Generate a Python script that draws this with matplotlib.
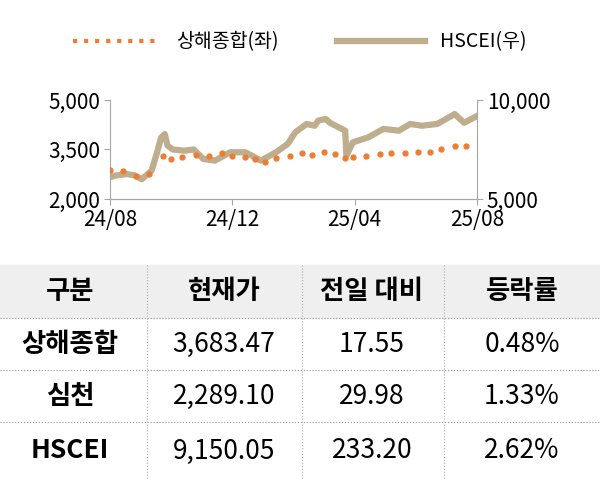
import matplotlib
matplotlib.use("Agg")
import matplotlib.pyplot as plt
from matplotlib.lines import Line2D

plt.rcParams['font.family'] = ['Noto Sans CJK KR', 'DejaVu Sans']

# months since 2024-08
hs_x = [0,0.16,0.54,0.79,1.04,1.36,1.54,1.67,1.79,1.88,2.05,2.42,2.74,3.05,3.43,3.93,4.43,4.93,5.43,5.81,6.06,6.43,6.69,6.81,7.06,7.19,7.69,7.73,7.94,8.44,8.94,9.44,9.82,10.2,10.7,11.27,11.58,11.96]
hs_y = [6100,6180,6260,6200,6000,6430,7360,8100,8280,7700,7500,7440,7500,7020,6940,7360,7360,6940,7360,7780,8370,8790,8700,8960,9040,8850,8450,7190,7860,8110,8540,8450,8790,8700,8790,9290,8850,9160]
sh_x = [0,0.41,0.85,1.29,1.73,2.01,2.36,2.80,3.24,3.65,3.99,4.43,4.74,5.06,5.43,5.87,6.27,6.62,6.99,7.37,7.69,7.94,8.38,8.82,9.20,9.64,10.08,10.45,10.83,11.27,11.65]
sh_y = [2880,2860,2710,2760,3310,3210,3280,3340,3310,3380,3310,3260,3210,3130,3230,3310,3380,3340,3430,3360,3230,3260,3290,3360,3380,3390,3410,3430,3520,3620,3620]
xticks = [0,4,8,12]
xlabels = ['24/08','24/12','25/04','25/08']

columns = ['구분','현재가','전일 대비','등락률']
rows = [['상해종합','3,683.47','17.55','0.48%'],
        ['심천','2,289.10','29.98','1.33%'],
        ['HSCEI','9,150.05','233.20','2.62%']]

orange = '#ED7D31'
tan = '#BFAE8E'

fig = plt.figure(figsize=(6,4.8), dpi=100)
ax = fig.add_axes([110/600, 1-199/480, 367/600, 99/480])
ax2 = ax.twinx()
ax.plot(sh_x, sh_y, linestyle='none', marker='o', ms=3.5, color=orange, zorder=3)
ax2.plot(hs_x, hs_y, color=tan, lw=4.5, zorder=2)
ax.set_zorder(ax2.get_zorder()+1); ax.patch.set_visible(False)
ax.set_xlim(0,12); ax.set_ylim(2000,5000); ax2.set_ylim(5000,10000)
ax.set_yticks([2000,3500,5000]); ax.set_yticklabels(['2,000','3,500','5,000'])
ax2.set_yticks([5000,10000]); ax2.set_yticklabels(['5,000','10,000'])
ax.set_xticks(xticks); ax.set_xticklabels(xlabels)
for a in (ax, ax2):
    a.spines['top'].set_visible(False)
    for s in ['left','right','bottom']:
        a.spines[s].set_color('#a6a6a6')
    a.tick_params(labelsize=15, color='#a6a6a6', length=4, direction='out', pad=3)
ax.spines['right'].set_visible(False)
ax2.spines['left'].set_visible(False)

handles = [Line2D([],[],linestyle=':',color=orange,lw=3),
           Line2D([],[],color=tan,lw=4.5)]
fig.legend(handles, ['상해종합(좌)','HSCEI(우)'], loc='center', bbox_to_anchor=(0.5,1-42/480),
           ncol=2, frameon=False, fontsize=14, handlelength=4.5, columnspacing=3)

# table
tax = fig.add_axes([0,0,1,1]); tax.set_xlim(0,600); tax.set_ylim(480,0); tax.axis('off')
col_edges = [0,147,302,444,600]
col_centers = [70,224,372,522]
row_edges = [265,318,370,422,480]
tax.add_patch(plt.Rectangle((0,265),600,53,color='#efefef',zorder=0))
for y in row_edges[1:-1]:
    tax.plot([0,600],[y,y],ls=':',color='#999999',lw=0.8)
for x in col_edges[1:-1]:
    tax.plot([x,x],[265,480],ls=':',color='#aaaaaa',lw=0.8)
for j,c in enumerate(columns):
    tax.text(col_centers[j],(row_edges[0]+row_edges[1])/2,c,ha='center',va='center',fontsize=19,fontweight='bold')
for i,r in enumerate(rows):
    yc = (row_edges[i+1]+row_edges[i+2])/2
    for j,v in enumerate(r):
        tax.text(col_centers[j],yc,v,ha='center',va='center',fontsize=19,
                 fontweight='bold' if j==0 else 'normal')
fig.savefig('out.png', dpi=100)
